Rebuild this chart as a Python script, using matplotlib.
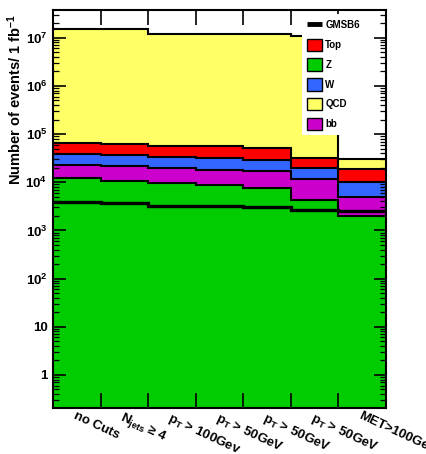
import numpy as np
import matplotlib
matplotlib.use("Agg")
import matplotlib.pyplot as plt
from matplotlib.patches import Patch
from matplotlib.lines import Line2D
from matplotlib import transforms

plt.rcParams['font.family'] = ['Liberation Sans', 'DejaVu Sans']
plt.rcParams['font.weight'] = 'bold'
plt.rcParams['mathtext.fontset'] = 'custom'
plt.rcParams['mathtext.rm'] = 'Liberation Sans:bold'
plt.rcParams['mathtext.bf'] = 'Liberation Sans:bold'
plt.rcParams['mathtext.it'] = 'Liberation Sans:bold:italic'
plt.rcParams['mathtext.default'] = 'bf'

# Cut-flow categories
cuts = ["no Cuts", r"$N_{jets}$ ≥ 4", r"$p_{T}$ > 100Gev", r"$p_{T}$ > 50GeV",
        r"$p_{T}$ > 50GeV", r"$p_{T}$ > 50GeV", "MET>100GeV"]

# Expected events per 1 fb^-1 for each background, per cut
z_bkg   = [1.20e4, 1.07e4, 9.5e3, 8.8e3, 7.5e3, 4.3e3, 2.0e3]
bb_bkg  = [1.07e4, 1.09e4, 9.9e3, 9.2e3, 9.5e3, 7.3e3, 2.84e3]
w_bkg   = [1.58e4, 1.50e4, 1.34e4, 1.45e4, 1.25e4, 8.1e3, 5.36e3]
top_bkg = [2.74e4, 2.54e4, 2.43e4, 2.35e4, 2.25e4, 1.21e4, 9.1e3]
qcd_bkg = [1.533e7, 1.534e7, 1.204e7, 1.204e7, 1.195e7, 1.077e7, 1.17e4]
# Signal
gmsb6   = [3.93e3, 3.64e3, 3.25e3, 3.2e3, 3.0e3, 2.63e3, 2.5e3]

y_ticks = [1, 10, 1e2, 1e3, 1e4, 1e5, 1e6, 1e7]
y_tick_labels = ["1", "10", r"$10^{2}$", r"$10^{3}$", r"$10^{4}$",
                 r"$10^{5}$", r"$10^{6}$", r"$10^{7}$"]

colors = {"Z": "#00cc00", "bb": "#cc00cc", "W": "#3366ff",
          "Top": "#ff0000", "QCD": "#ffff66"}

W_PX, H_PX, DPI = 427, 454, 100
fig = plt.figure(figsize=(W_PX / DPI, H_PX / DPI), dpi=DPI)
ax = fig.add_axes([53 / W_PX, 1 - 408 / H_PX, (386 - 53) / W_PX, (408 - 10) / H_PX])

n = len(cuts)
edges = np.arange(n + 1)
centers = edges[:-1] + 0.5
ymin, ymax = 0.206, 3.77e7

# Stack order, bottom to top
layers = [("Z", z_bkg), ("bb", bb_bkg), ("W", w_bkg), ("Top", top_bkg), ("QCD", qcd_bkg)]
cum = np.cumsum([np.array(v) for _, v in layers], axis=0)

# Draw from the tallest cumulative sum down, each filled to the bottom
for (name, _), top in reversed(list(zip(layers, cum))):
    ax.stairs(top, edges, baseline=ymin, fill=True, color=colors[name], zorder=1)
    ax.stairs(top, edges, baseline=None, color="black", linewidth=1.5, zorder=1.2)

ax.stairs(gmsb6, edges, baseline=None, color="black", linewidth=2.4, zorder=2)

ax.set_yscale("log")
ax.set_xlim(edges[0], edges[-1])
ax.set_ylim(ymin, ymax)

# Ticks
ax.set_xticks(edges[1:-1])
ax.set_xticklabels([])
ax.tick_params(axis="x", which="major", direction="in", length=11, width=1.2,
               top=True, bottom=True)
ax.tick_params(axis="x", which="minor", bottom=False, top=False)
ax.set_yticks(y_ticks)
ax.set_yticklabels(y_tick_labels)
ax.tick_params(axis="y", which="major", direction="in", length=9, width=1.2,
               left=True, right=True, labelsize=9.5, pad=4)
ax.tick_params(axis="y", which="minor", direction="in", length=4.5, width=0.9,
               left=True, right=True)
ax.yaxis.set_minor_locator(matplotlib.ticker.LogLocator(base=10, subs=np.arange(2, 10), numticks=20))
ax.yaxis.set_minor_formatter(matplotlib.ticker.NullFormatter())
for s in ax.spines.values():
    s.set_linewidth(1.5)
    s.set_zorder(3)

# Cut labels, rotated under each bin
lab_trans = transforms.offset_copy(
    transforms.blended_transform_factory(ax.transData, ax.transAxes),
    fig=fig, x=0, y=-2, units="dots")
for c, lab in zip(centers, cuts):
    ax.text(c, 0, lab, transform=lab_trans, rotation=-25, rotation_mode="anchor",
            ha="left", va="top", fontsize=9.5, fontweight="bold", clip_on=False)

ax.set_ylabel(r"Number of events/ 1 fb$^{-1}$", fontsize=10.5, fontweight="bold")
ax.yaxis.set_label_coords(-0.088, 0.776)

handles = [Line2D([], [], color="black", linewidth=3.5, solid_capstyle="butt"),
           Patch(facecolor=colors["Top"], edgecolor="black", linewidth=1.0),
           Patch(facecolor=colors["Z"], edgecolor="black", linewidth=1.0),
           Patch(facecolor=colors["W"], edgecolor="black", linewidth=1.0),
           Patch(facecolor=colors["QCD"], edgecolor="black", linewidth=1.0),
           Patch(facecolor=colors["bb"], edgecolor="black", linewidth=1.0)]
leg = ax.legend(handles, ["GMSB6", "Top", "Z", "W", "QCD", "bb"],
                loc="upper left", bbox_to_anchor=(302 / W_PX, 1 - 14 / H_PX),
                bbox_transform=fig.transFigure, borderaxespad=0, borderpad=0.5,
                prop={"size": 7, "weight": "bold"}, handlelength=1.6,
                handleheight=1.6, handletextpad=0.3, labelspacing=0.75,
                fancybox=False, framealpha=1, facecolor="white", edgecolor="none")
leg.set_zorder(5)

fig.savefig("out.png", dpi=DPI)
